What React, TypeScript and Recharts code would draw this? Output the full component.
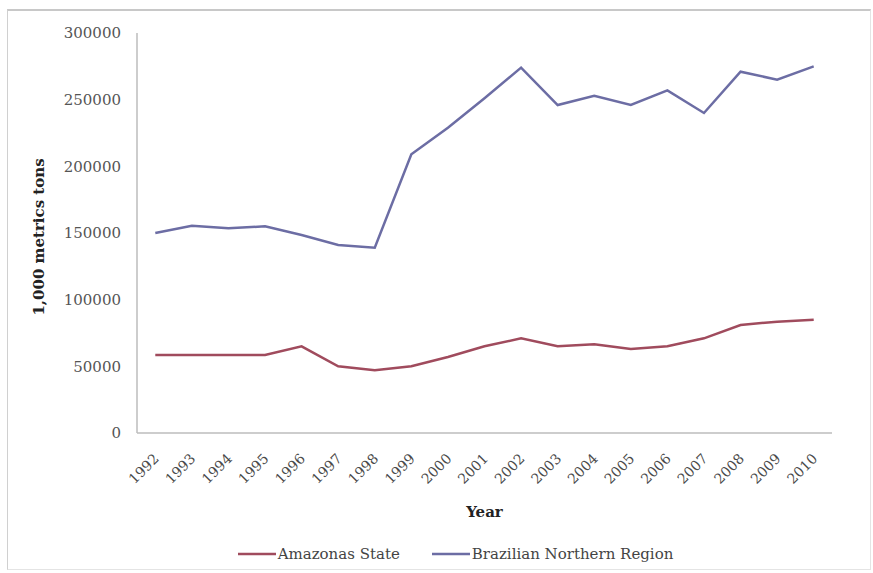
import { LineChart, Line, XAxis, YAxis, Legend } from 'recharts'

const years = [
  '1992', '1993', '1994', '1995', '1996', '1997', '1998', '1999', '2000', '2001',
  '2002', '2003', '2004', '2005', '2006', '2007', '2008', '2009', '2010',
]

// thousand metric tons
const amazonas = [
  58500, 58500, 58500, 58500, 65000, 50000, 47000, 50000, 57000, 65000,
  71000, 65000, 66500, 63000, 65000, 71000, 81000, 83500, 85000,
]

const northern = [
  150000, 155500, 153500, 155000, 148500, 141000, 139000, 209000, 229000, 251000,
  274000, 246000, 253000, 246000, 257000, 240000, 271000, 265000, 275000,
]

const yTicks = [0, 50000, 100000, 150000, 200000, 250000, 300000]

const data = years.map((year, i) => ({
  year,
  amazonas: amazonas[i],
  northern: northern[i],
}))

const RED = '#a04b5d'
const BLUE = '#6c6da4'
const FONT = '"DejaVu Serif", "Liberation Serif", serif'

function YearTick({ x, y, payload }: { x?: number; y?: number; payload?: { value: string } }) {
  const tx = (x ?? 0) + 1
  const ty = (y ?? 0) + 15
  return (
    <text
      x={tx}
      y={ty}
      transform={`rotate(-45 ${tx} ${ty})`}
      textAnchor="end"
      dominantBaseline="central"
      fill="#4a4a4a"
      fontSize={14}
      fontFamily={FONT}
    >
      {payload?.value}
    </text>
  )
}

function LegendRow() {
  const items = [
    { label: 'Amazonas State', color: RED },
    { label: 'Brazilian Northern Region', color: BLUE },
  ]
  return (
    <div style={{ display: 'flex', justifyContent: 'center', gap: 32, paddingLeft: 62 }}>
      {items.map((it) => (
        <div key={it.label} style={{ display: 'flex', alignItems: 'center' }}>
          <svg width={38} height={10}>
            <line x1={0} y1={5} x2={38} y2={5} stroke={it.color} strokeWidth={2.5} />
          </svg>
          <span style={{ fontFamily: FONT, fontSize: 15, color: '#444', marginLeft: 2 }}>
            {it.label}
          </span>
        </div>
      ))}
    </div>
  )
}

export default function App() {
  return (
    <div style={{ position: 'absolute', left: 0, top: 0, width: 873, height: 573, background: '#fff' }}>
      <div
        style={{
          position: 'absolute',
          left: 7,
          top: 9,
          width: 862,
          height: 558,
          borderTop: '2px solid #c8c8c8',
          borderLeft: '1px solid #d0d0d0',
          borderRight: '1px solid #e4e4e4',
          borderBottom: '1px solid #e4e4e4',
        }}
      />
      <LineChart
        width={873}
        height={573}
        data={data}
        margin={{ top: 33, right: 41, bottom: 0, left: 17 }}
      >
        <XAxis
          dataKey="year"
          scale="band"
          interval={0}
          tick={<YearTick />}
          tickLine={false}
          axisLine={{ stroke: '#bdbdbd', strokeWidth: 1.5 }}
          height={112}
          label={{
            value: 'Year',
            position: 'insideBottom',
            offset: 28,
            fill: '#222',
            fontSize: 15,
            fontWeight: 'bold',
            fontFamily: FONT,
          }}
        />
        <YAxis
          domain={[0, 300000]}
          ticks={yTicks}
          interval={0}
          width={120}
          tickLine={false}
          axisLine={{ stroke: '#bdbdbd', strokeWidth: 1.5 }}
          tick={{ fill: '#555', fontSize: 15, fontFamily: FONT, dx: -8 }}
          label={{
            value: '1,000 metrics tons',
            angle: -90,
            position: 'insideLeft',
            offset: 22,
            dy: 4,
            fill: '#222',
            fontSize: 15,
            fontWeight: 'bold',
            fontFamily: FONT,
            style: { textAnchor: 'middle' },
          }}
        />
        <Legend verticalAlign="bottom" height={28} content={<LegendRow />} />
        <Line
          dataKey="amazonas"
          name="Amazonas State"
          stroke={RED}
          strokeWidth={2.5}
          dot={false}
          activeDot={false}
          isAnimationActive={false}
        />
        <Line
          dataKey="northern"
          name="Brazilian Northern Region"
          stroke={BLUE}
          strokeWidth={2.5}
          dot={false}
          activeDot={false}
          isAnimationActive={false}
        />
      </LineChart>
    </div>
  )
}
